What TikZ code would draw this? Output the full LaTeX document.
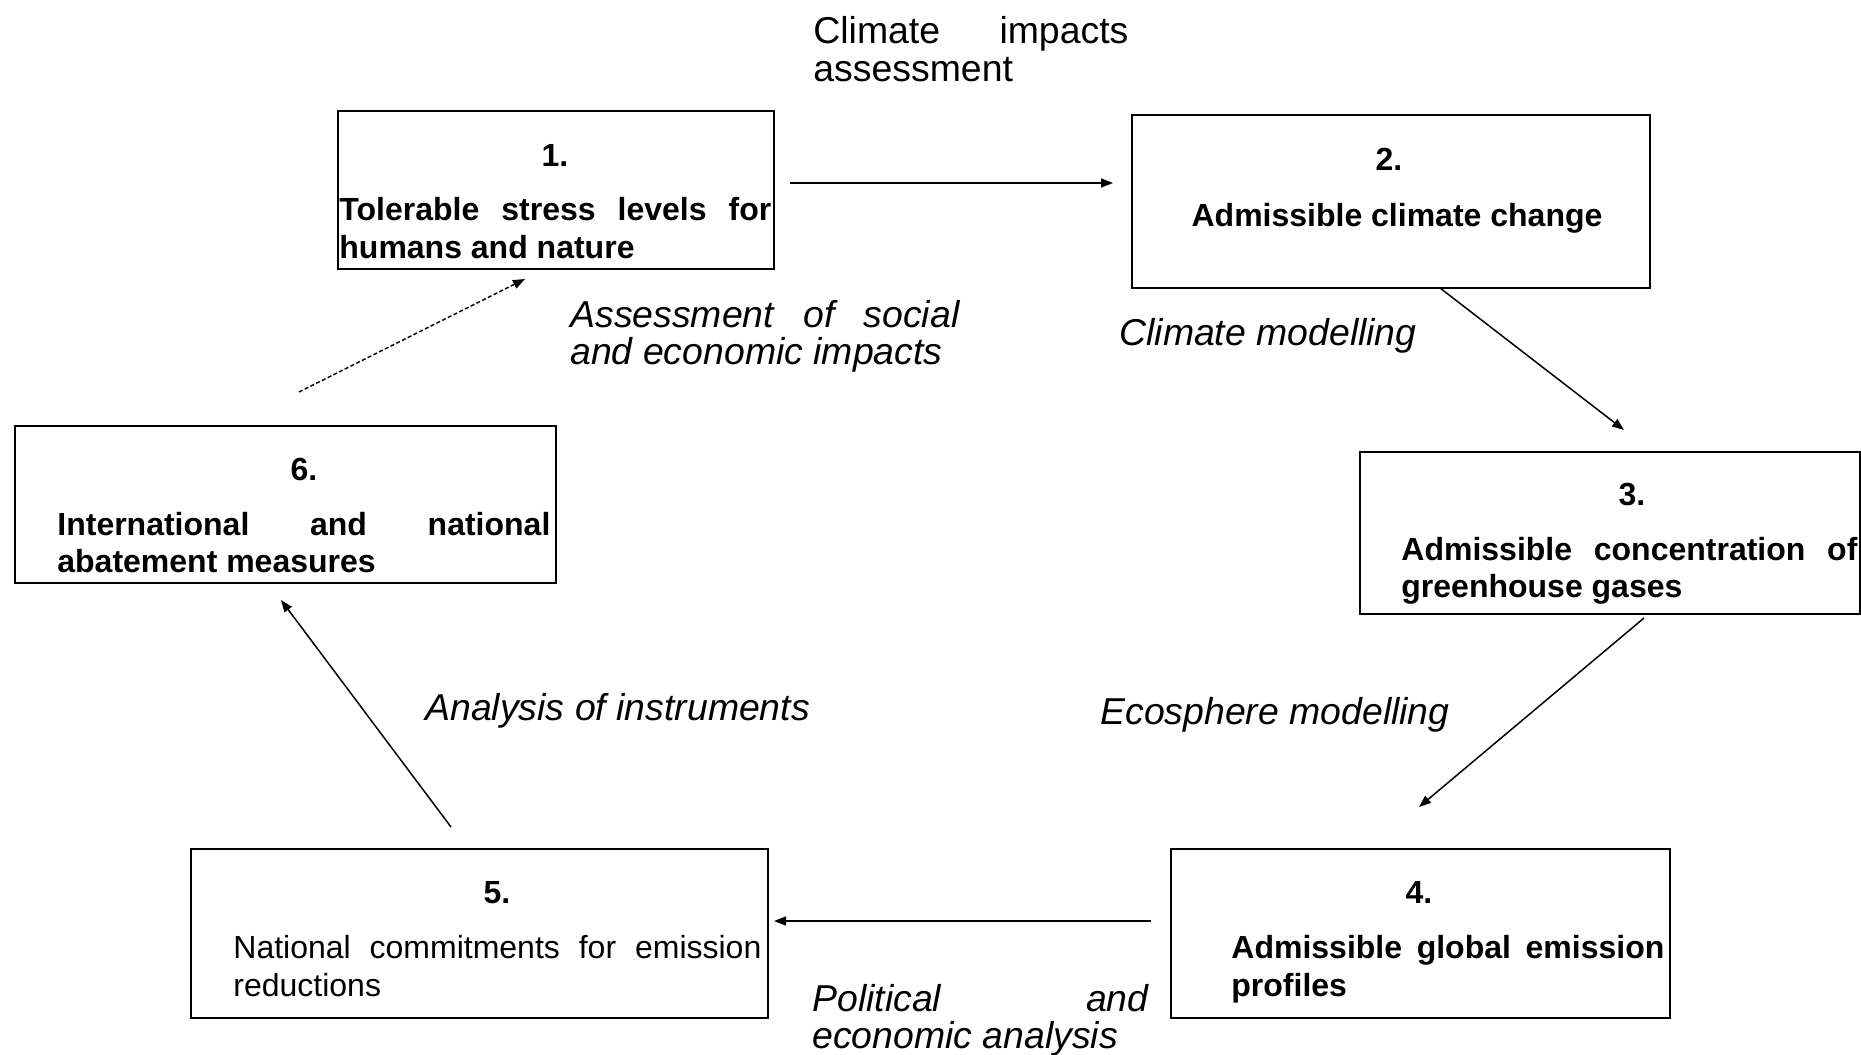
\documentclass[tikz,border=0pt]{standalone}
\usepackage{fontspec}
\setmainfont{Liberation Sans}
\usetikzlibrary{arrows.meta}
\newcommand{\jline}[2]{\hbox to #1{#2}}
\begin{document}
\begin{tikzpicture}[x=0.5pt,y=-0.5pt,
  box/.style={draw, line width=1.1pt, inner sep=0, anchor=north west},
  conn/.style={line width=0.75pt, -{Triangle[length=6pt,width=4.5pt]}},
  num/.style={font=\fontsize{16pt}{19pt}\selectfont\bfseries, anchor=base, inner sep=0},
  bl/.style={font=\fontsize{16pt}{19pt}\selectfont\bfseries, anchor=base west, inner sep=0},
  rl/.style={font=\fontsize{16pt}{19pt}\selectfont, anchor=base west, inner sep=0},
  lab/.style={font=\fontsize{18.7pt}{19pt}\selectfont\itshape, anchor=base west, inner sep=0},
  labr/.style={font=\fontsize{18.7pt}{19pt}\selectfont, anchor=base west, inner sep=0},
]
\useasboundingbox (0,0) rectangle (1861,1054);
\fill[white] (0,0) rectangle (1861,1054);

% boxes
\node[box, minimum width=218pt, minimum height=79pt] (b1) at (337,110) {};
\node[box, minimum width=259pt, minimum height=86.5pt] (b2) at (1131,114) {};
\node[box, minimum width=250pt, minimum height=81pt] (b3) at (1359,451) {};
\node[box, minimum width=249.5pt, minimum height=84.5pt] (b4) at (1170,848) {};
\node[box, minimum width=288.5pt, minimum height=84.5pt] (b5) at (190,848) {};
\node[box, minimum width=270.5pt, minimum height=78.5pt] (b6) at (14,425) {};

% box 1
\node[num] (n1) at (555,166) {1.};
\node[bl] (t1a) at (339,220) {\jline{216pt}{Tolerable\hfill stress\hfill levels\hfill for}};
\node[bl] (t1b) at (339,258) {humans and nature};
% box 2
\node[num] (n2) at (1389,170) {2.};
\node[num] (t2a) at (1397,226) {Admissible climate change};
% box 3
\node[num] (n3) at (1632,505) {3.};
\node[bl] (t3a) at (1401,560) {\jline{228pt}{Admissible\hfill concentration\hfill of}};
\node[bl] (t3b) at (1401,597) {greenhouse gases};
% box 4
\node[num] (n4) at (1419,903) {4.};
\node[bl] (t4a) at (1231,958) {\jline{216.5pt}{Admissible\hfill global\hfill emission}};
\node[bl] (t4b) at (1231,996) {profiles};
% box 5
\node[num] (n5) at (497,903) {5.};
\node[rl] (t5a) at (233,958) {\jline{264pt}{National\hfill commitments\hfill for\hfill emission}};
\node[rl] (t5b) at (233,996) {reductions};
% box 6
\node[num] (n6) at (304,480) {6.};
\node[bl] (t6a) at (57,535) {\jline{246.5pt}{International\hfill and\hfill national}};
\node[bl] (t6b) at (57,572) {abatement measures};

% labels
\node[labr] (l1a) at (813,44) {\jline{157.5pt}{Climate\hfill impacts}};
\node[labr] (l1b) at (813,82) {assessment};
\node[lab] (l2a) at (570,327) {\jline{194.5pt}{Assessment\hfill of\hfill social}};
\node[lab] (l2b) at (570,364) {and economic impacts};
\node[lab] (l3) at (1119,345) {Climate modelling};
\node[lab] (l4) at (1100,724) {Ecosphere modelling};
\node[lab] (l5) at (425,720) {Analysis of instruments};
\node[lab] (l6a) at (812,1011) {\jline{168pt}{Political\hfill and}};
\node[lab] (l6b) at (812,1048) {economic analysis};

% connectors
\coordinate (a1s) at (790,183); \coordinate (a1e) at (1113,183);
\coordinate (a2s) at (1440,288); \coordinate (a2e) at (1624,430);
\coordinate (a3s) at (1644,618); \coordinate (a3e) at (1419,807);
\coordinate (a4s) at (1151,921); \coordinate (a4e) at (774,921);
\coordinate (a5s) at (451,827); \coordinate (a5e) at (281,600);
\coordinate (a6s) at (299,392); \coordinate (a6e) at (525,279);
\draw[conn] (a1s) -- (a1e);
\draw[conn] (a2s) -- (a2e);
\draw[conn] (a3s) -- (a3e);
\draw[conn] (a4s) -- (a4e);
\draw[conn] (a5s) -- (a5e);
\draw[conn, dash pattern=on 2pt off 1.2pt] (a6s) -- (a6e);
\end{tikzpicture}
\end{document}
